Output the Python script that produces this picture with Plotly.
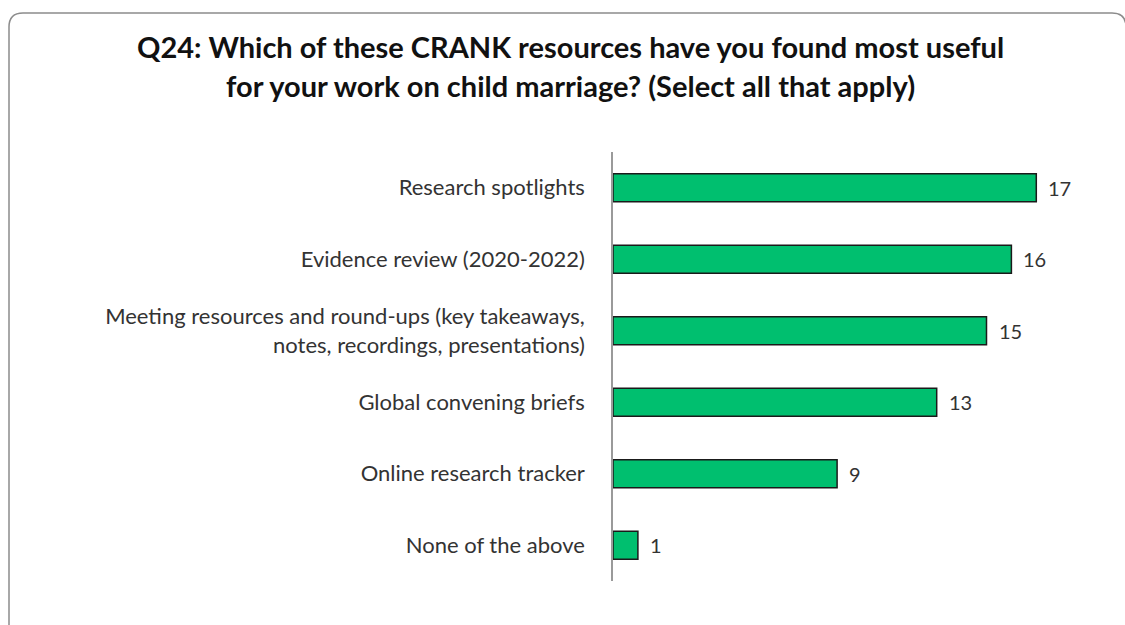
import plotly.graph_objects as go

# Survey responses: CRANK resources found most useful
categories = [
    "Research spotlights",
    "Evidence review (2020-2022)",
    "Meeting resources and round-ups (key takeaways,<br>notes, recordings, presentations)",
    "Global convening briefs",
    "Online research tracker",
    "None of the above",
]
counts = [17, 16, 15, 13, 9, 1]

title_lines = [
    "Q24: Which of these CRANK resources have you found most useful",
    "for your work on child marriage? (Select all that apply)",
]

W, H = 1125, 625
ML, MR, MT, MB = 613, 14, 152, 44
PW, PH = W - ML - MR, H - MT - MB

FONT = "Lato, 'Open Sans', sans-serif"
GREEN = "#00BF6F"
TEXT = "#333333"


def px_x(x):
    return (x - ML) / PW


def px_y(y):
    return (H - MB - y) / PH


fig = go.Figure(
    go.Bar(
        x=counts,
        y=categories,
        orientation="h",
        marker=dict(color=GREEN, line=dict(color="#1a1a1a", width=1.5)),
        hoverinfo="x+y",
    )
)

# value labels to the right of each bar
annotations = [
    dict(
        x=v, y=c, xref="x", yref="y", text=str(v), showarrow=False,
        xanchor="left", yanchor="middle", xshift=10,
        font=dict(family=FONT, size=20, color=TEXT),
    )
    for c, v in zip(categories, counts)
]

# two-line bold heading
for line, ypix in zip(title_lines, [47, 85]):
    annotations.append(dict(
        x=px_x(570), y=px_y(ypix), xref="paper", yref="paper",
        text=f"<b>{line}</b>", showarrow=False,
        xanchor="center", yanchor="middle",
        font=dict(family=FONT, size=29, color="#111111"),
    ))

# rounded frame around the chart
L, T, R, B, r = 9, 13, 1126, 640, 14
path = (
    f"M {px_x(L)},{px_y(T + r)} "
    f"Q {px_x(L)},{px_y(T)} {px_x(L + r)},{px_y(T)} "
    f"L {px_x(R - r)},{px_y(T)} "
    f"Q {px_x(R)},{px_y(T)} {px_x(R)},{px_y(T + r)} "
    f"L {px_x(R)},{px_y(B - r)} "
    f"Q {px_x(R)},{px_y(B)} {px_x(R - r)},{px_y(B)} "
    f"L {px_x(L + r)},{px_y(B)} "
    f"Q {px_x(L)},{px_y(B)} {px_x(L)},{px_y(B - r)} Z"
)

fig.update_layout(
    width=W, height=H,
    margin=dict(l=ML, r=MR, t=MT, b=MB, autoexpand=False),
    paper_bgcolor="white", plot_bgcolor="white",
    bargap=0.61,
    showlegend=False,
    annotations=annotations,
    shapes=[dict(type="path", path=path, xref="paper", yref="paper",
                 line=dict(color="#8c8c8c", width=1.5), layer="below")],
    xaxis=dict(range=[0, 20], visible=False, fixedrange=True),
    yaxis=dict(
        categoryorder="array", categoryarray=categories, autorange="reversed",
        showline=True, linecolor="#9a9a9a", linewidth=1.5,
        ticks="", showgrid=False, zeroline=False,
        ticklabelstandoff=22,
        tickfont=dict(family=FONT, size=22, color=TEXT),
    ),
    font=dict(family=FONT),
)

fig.write_html("out.html")
